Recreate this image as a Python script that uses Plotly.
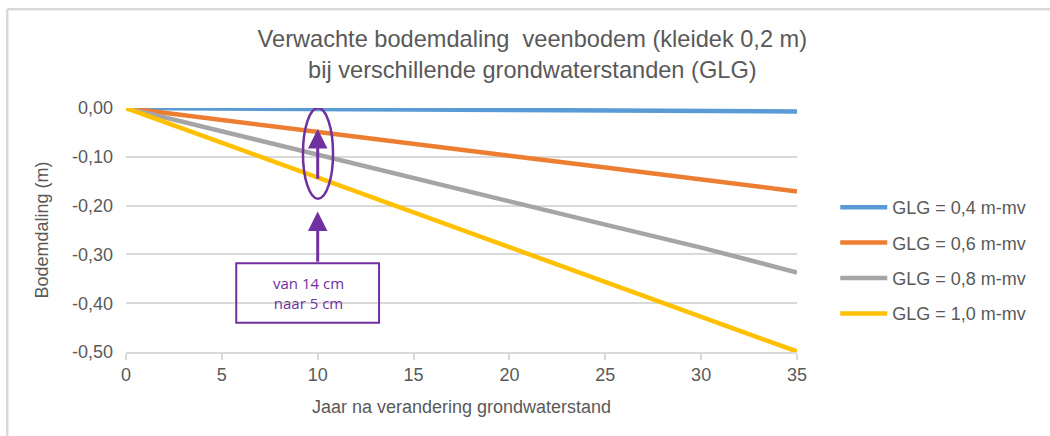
import plotly.graph_objects as go

years = [0, 5, 10, 15, 20, 25, 30, 35]
glg_04 = [0.0, -0.001, -0.002, -0.003, -0.004, -0.005, -0.006, -0.007]
glg_06 = [0.0, -0.025, -0.050, -0.074, -0.098, -0.122, -0.147, -0.171]
glg_08 = [0.0, -0.048, -0.097, -0.145, -0.192, -0.239, -0.286, -0.337]
glg_10 = [0.0, -0.071, -0.142, -0.213, -0.285, -0.356, -0.428, -0.499]

series_names = ["GLG = 0,4 m-mv", "GLG = 0,6 m-mv", "GLG = 0,8 m-mv", "GLG = 1,0 m-mv"]
series_values = [glg_04, glg_06, glg_08, glg_10]
colors = ["#5B9BD5", "#ED7D31", "#A5A5A5", "#FFC000"]

y_ticks = [0.0, -0.1, -0.2, -0.3, -0.4, -0.5]
y_ticklabels = ["0,00", "-0,10", "-0,20", "-0,30", "-0,40", "-0,50"]
x_ticks = [0, 5, 10, 15, 20, 25, 30, 35]

title_text = "Verwachte bodemdaling  veenbodem (kleidek 0,2 m)<br>bij verschillende grondwaterstanden (GLG)"
box_text = "van 14 cm<br>naar 5 cm"
purple = "#7030A0"
txt = "#595959"

fig = go.Figure()
for name, vals, c in zip(series_names, series_values, colors):
    fig.add_trace(go.Scatter(x=years, y=vals, mode="lines", name=name,
                             legendgroup=name,
                             line=dict(color=c, width=4.5)))

# ellipse around year 10
fig.add_shape(type="circle", xref="x", yref="y", x0=9.23, x1=10.8, y0=-0.186, y1=0.0,
              line=dict(color=purple, width=2.5))
# box
fig.add_shape(type="rect", xref="x", yref="y", x0=5.75, x1=13.2, y0=-0.44, y1=-0.318,
              line=dict(color=purple, width=2))
fig.add_annotation(x=9.5, y=-0.379, xref="x", yref="y", text=box_text, showarrow=False,
                   font=dict(family="Open Sans, sans-serif", size=15, color=purple),
                   align="center")
# arrows
fig.add_annotation(x=10, y=-0.043, ax=10, ay=-0.148, xref="x", yref="y", axref="x", ayref="y",
                   text="", showarrow=True, arrowhead=2, arrowsize=1.3, arrowwidth=3,
                   arrowcolor=purple)
fig.add_annotation(x=10, y=-0.212, ax=10, ay=-0.318, xref="x", yref="y", axref="x", ayref="y",
                   text="", showarrow=True, arrowhead=2, arrowsize=1.3, arrowwidth=3,
                   arrowcolor=purple)

# outer frame (top and left border)
fig.add_shape(type="line", xref="paper", yref="paper", x0=-0.177, x1=1.5, y0=1.405, y1=1.405,
              layer="above", line=dict(color="#D9D9D9", width=2.5))
fig.add_shape(type="line", xref="paper", yref="paper", x0=-0.177, x1=-0.177, y0=1.405, y1=-0.5,
              layer="above", line=dict(color="#D9D9D9", width=2.5))

fig.update_layout(
    width=1050, height=436,
    margin=dict(l=126, r=253, t=108, b=84),
    paper_bgcolor="white", plot_bgcolor="white",
    font=dict(family="Liberation Sans, Arial, sans-serif", color=txt, size=18),
    title=dict(text=title_text, x=0.507, xref="container", xanchor="center",
               y=1 - 47 / 436, yanchor="top", yref="container",
               font=dict(size=23.6, color=txt, family="Liberation Sans, Arial, sans-serif")),
    showlegend=True,
    legend=dict(x=1.057, y=0.668, xanchor="left", yanchor="top",
                font=dict(size=18, color=txt), tracegroupgap=9, itemwidth=47,
                bgcolor="rgba(0,0,0,0)"),
    xaxis=dict(range=[0, 35], tickvals=x_ticks, showgrid=False, zeroline=False,
               showline=True, linecolor="#D9D9D9", linewidth=1.5,
               ticks="outside", ticklen=6, tickcolor="#D9D9D9", tickwidth=1.5,
               tickfont=dict(size=18, color=txt),
               title=dict(text="Jaar na verandering grondwaterstand", font=dict(size=18, color=txt), standoff=16)),
    yaxis=dict(range=[-0.5, 0], tickvals=y_ticks, ticktext=y_ticklabels,
               showgrid=True, gridcolor="#D9D9D9", gridwidth=1.5, zeroline=False,
               showline=False, ticks="", tickfont=dict(size=18, color=txt),
               ticklabelstandoff=12,
               title=dict(text="Bodemdaling (m)", font=dict(size=18, color=txt), standoff=18)),
)

fig.write_html("out.html", config={"displayModeBar": False},
               post_script="document.body.style.margin='0';")
